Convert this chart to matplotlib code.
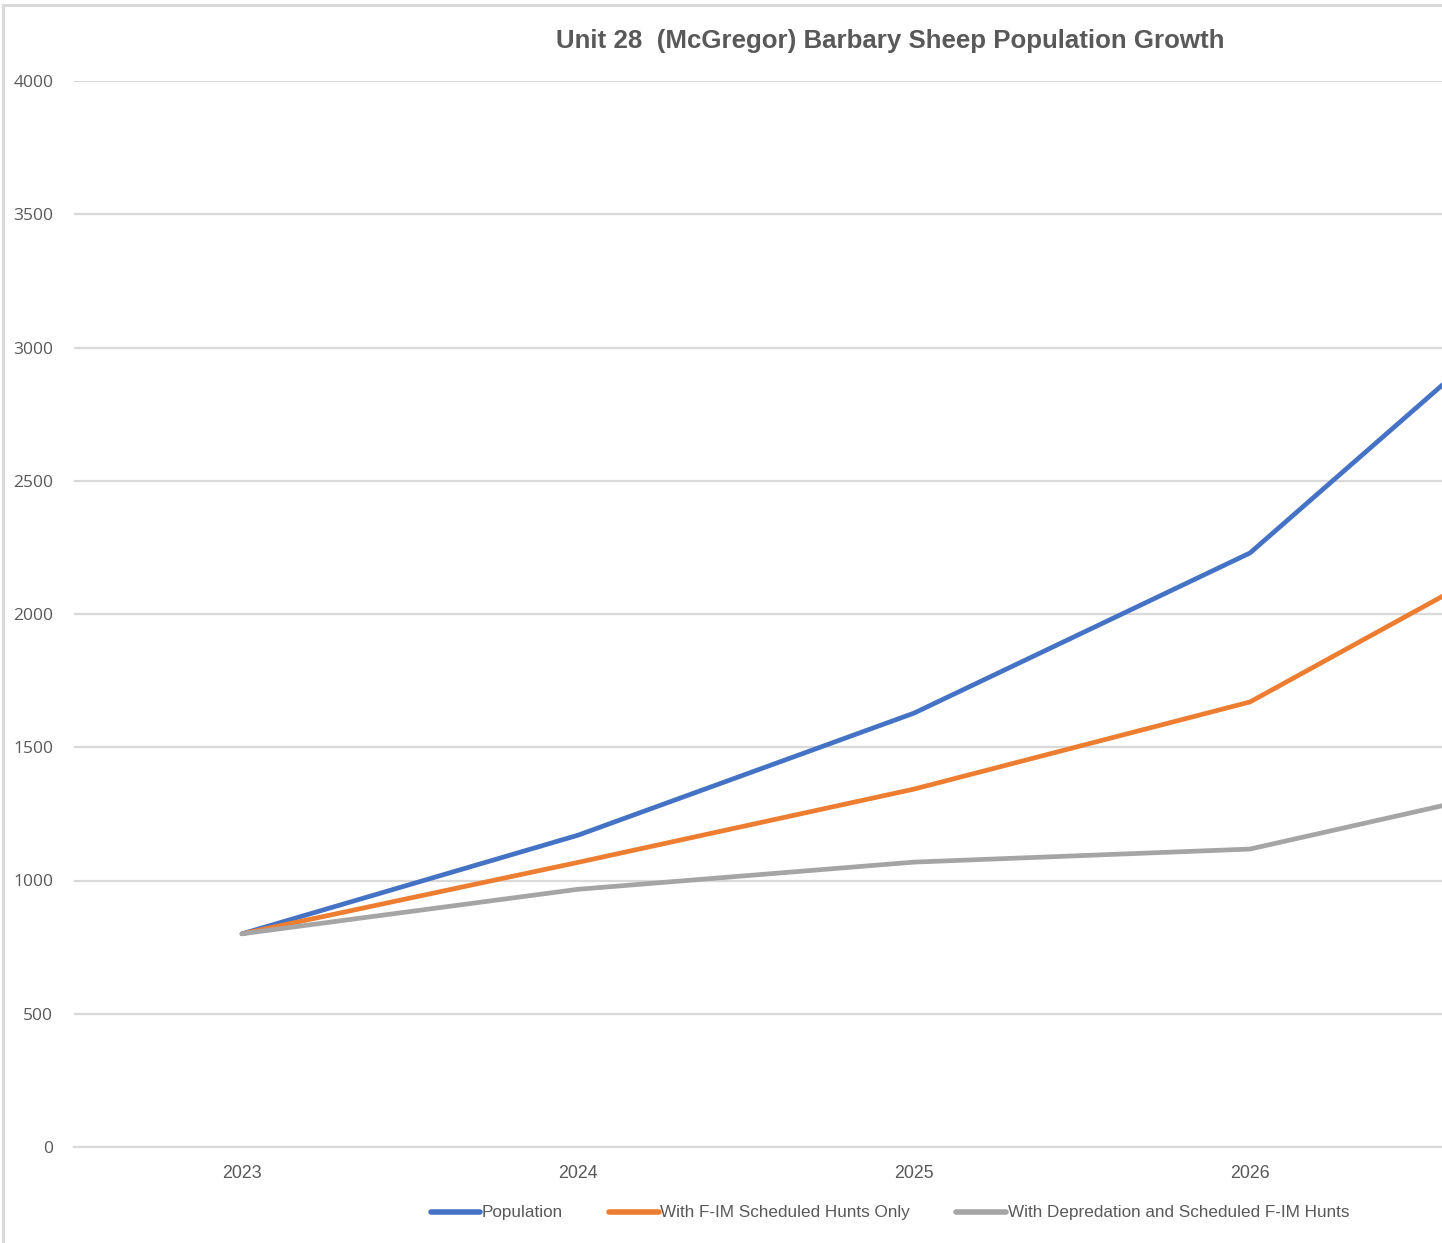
import matplotlib
matplotlib.use("Agg")
import matplotlib.pyplot as plt
from matplotlib import font_manager as fm
from matplotlib.lines import Line2D

years = ["2023", "2024", "2025", "2026", "2027"]
population = [800, 1170, 1628, 2229, 3330]
fim_only = [800, 1068, 1343, 1670, 2362]
depredation = [800, 967, 1069, 1118, 1402]
series_names = ["Population", "With F-IM Scheduled Hunts Only",
                "With Depredation and Scheduled F-IM Hunts"]
yticks = [0, 500, 1000, 1500, 2000, 2500, 3000, 3500, 4000]

avail = {f.name for f in fm.fontManager.ttflist}
narrow = "Liberation Sans Narrow" if "Liberation Sans Narrow" in avail else "Liberation Sans"
regular = "Open Sans" if "Open Sans" in avail else "DejaVu Sans"

W, H = 1442, 1243
fig = plt.figure(figsize=(W / 100, H / 100), dpi=100)
fig.patch.set_facecolor("white")

# outer chart border (left and top visible)
fig.add_artist(Line2D([3 / W, 3 / W], [0, 1 - 5 / H], transform=fig.transFigure,
                      color="#d9d9d9", lw=2.2))
fig.add_artist(Line2D([3 / W, 1], [1 - 5 / H, 1 - 5 / H], transform=fig.transFigure,
                      color="#d9d9d9", lw=2.2))

left, right = 74 / W, 1.0
bottom, top = (H - 1147) / H, (H - 81) / H
ax = fig.add_axes([left, bottom, right - left, top - bottom])

x = list(range(len(years)))
colors = ["#4472C4", "#ED7D31", "#A5A5A5"]
for vals, c, name in zip([population, fim_only, depredation], colors, series_names):
    ax.plot(x, vals, color=c, lw=3.4, solid_capstyle="round", label=name, zorder=3)

ax.set_yticks(yticks)
ax.set_yticklabels([str(v) for v in yticks], fontsize=12.5, color="#595959",
                   fontfamily=regular)
ax.set_xticks(x)
ax.set_xticklabels(years, fontsize=12.8, color="#595959", fontfamily=narrow)
ax.set_xlim(-0.5, -0.5 + (W - 74) / 336)
ax.set_ylim(0, 4000)
ax.tick_params(axis="y", length=0, pad=15)
ax.tick_params(axis="x", length=0, pad=13)
ax.grid(axis="y", color="#d9d9d9", lw=1.6, zorder=0)
for s in ["top", "right", "left"]:
    ax.spines[s].set_visible(False)
ax.spines["bottom"].set_color("#d9d9d9")
ax.spines["bottom"].set_linewidth(1.6)
ax.set_axisbelow(True)

cx = 890 / W
fig.text(cx, 1 - 41 / H, "Unit 28  (McGregor) Barbary Sheep Population Growth",
         ha="center", va="center", fontsize=18.6, fontweight="bold",
         color="#595959", fontfamily=narrow)

handles = [Line2D([], [], color=c, lw=4.0, solid_capstyle="round") for c in colors]
leg = fig.legend(handles, series_names, loc="center", bbox_to_anchor=(cx, 1 - 1213 / H),
                 ncol=3, frameon=False, handlelength=2.9, handletextpad=0.1,
                 columnspacing=2.7, prop={"family": narrow, "size": 12.3})
for t in leg.get_texts():
    t.set_color("#595959")

fig.savefig("out.png", dpi=100, facecolor="white")
